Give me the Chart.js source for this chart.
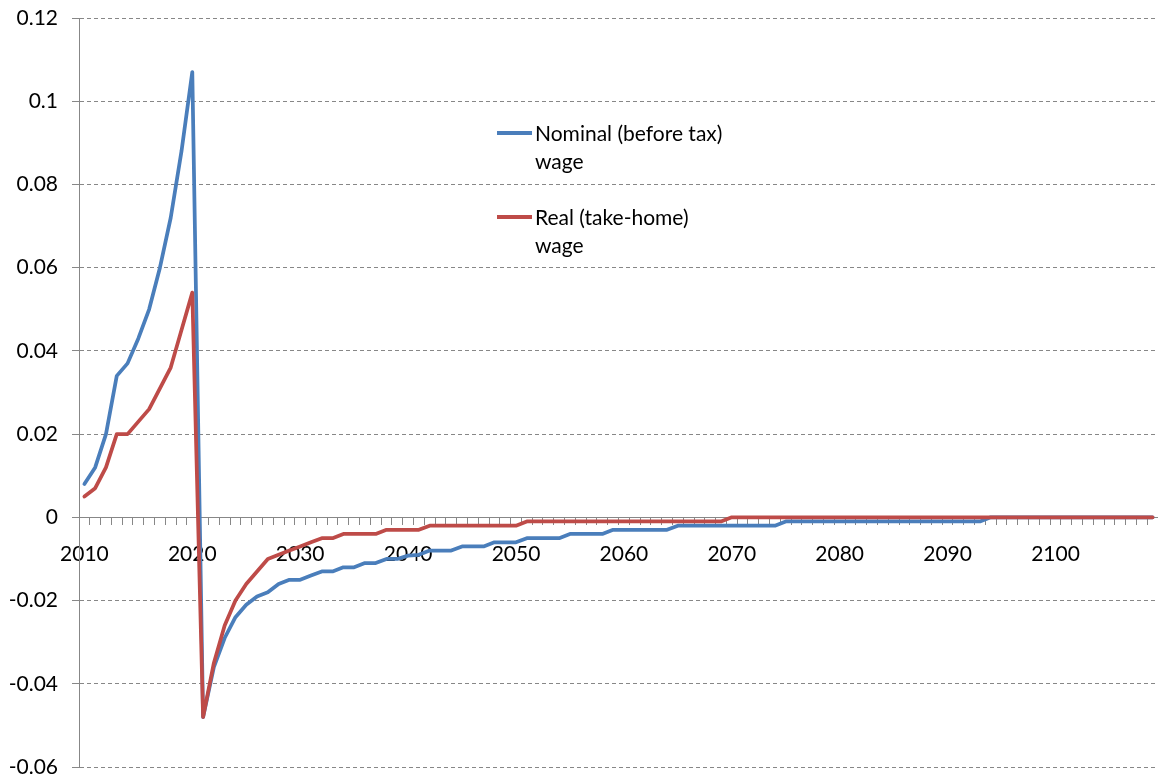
<!DOCTYPE html>
<html>
<head>
<meta charset="utf-8">
<title>Nominal and real wage</title>
<script src="https://cdn.jsdelivr.net/npm/chart.js@4.4.1/dist/chart.umd.min.js"></script>
<style>
    html, body { margin: 0; padding: 0; background: #ffffff; }
    #wrap { position: relative; width: 1158px; height: 781px; }
    #legend {
        position: absolute;
        left: 497px;
        top: 119px;
        font-family: Lato, 'Open Sans', sans-serif;
        font-size: 21px;
        line-height: 28px;
        color: #000000;
    }
    .item { display: flex; align-items: flex-start; margin-bottom: 28px; }
    .swatch { width: 35px; height: 3.5px; margin-top: 12px; margin-right: 3px; flex: none; }
</style>
</head>
<body>
<div id="wrap">
    <canvas id="wageChart" width="1158" height="781"></canvas>
    <div id="legend"></div>
</div>
<script>
// Years on the x axis
const years = Array.from({ length: 100 }, (_, i) => String(2010 + i));
const xTickLabels = ['2010', '2020', '2030', '2040', '2050', '2060', '2070', '2080', '2090', '2100'];
const yTicks = [0.12, 0.1, 0.08, 0.06, 0.04, 0.02, 0, -0.02, -0.04, -0.06];

const seriesLabels = ['Nominal (before tax)\nwage', 'Real (take-home)\nwage'];
const seriesColors = ['#4A7EBB', '#BE4B48'];

// 2010 - 2109
const nominalWage = [
    0.008, 0.012, 0.020, 0.034, 0.037, 0.043, 0.050, 0.060, 0.072, 0.088,
    0.107, -0.048, -0.036, -0.029, -0.024, -0.021, -0.019, -0.018, -0.016, -0.015,
    -0.015, -0.014, -0.013, -0.013, -0.012, -0.012, -0.011, -0.011, -0.010, -0.010,
    -0.0092, -0.009, -0.008, -0.008, -0.008, -0.007, -0.007, -0.007, -0.006, -0.006,
    -0.006, -0.005, -0.005, -0.005, -0.005, -0.004, -0.004, -0.004, -0.004, -0.003,
    -0.003, -0.003, -0.003, -0.003, -0.003, -0.002, -0.002, -0.002, -0.002, -0.002,
    -0.002, -0.002, -0.002, -0.002, -0.002, -0.001, -0.001, -0.001, -0.001, -0.001,
    -0.001, -0.001, -0.001, -0.001, -0.001, -0.001, -0.001, -0.001, -0.001, -0.001,
    -0.001, -0.001, -0.001, -0.001, 0, 0, 0, 0, 0, 0,
    0, 0, 0, 0, 0, 0, 0, 0, 0, 0
];

const realWage = [
    0.005, 0.007, 0.012, 0.020, 0.020, 0.023, 0.026, 0.031, 0.036, 0.045,
    0.054, -0.048, -0.035, -0.026, -0.020, -0.016, -0.013, -0.010, -0.009, -0.008,
    -0.007, -0.006, -0.005, -0.005, -0.004, -0.004, -0.004, -0.004, -0.003, -0.003,
    -0.003, -0.003, -0.002, -0.002, -0.002, -0.002, -0.002, -0.002, -0.002, -0.002,
    -0.002, -0.001, -0.001, -0.001, -0.001, -0.001, -0.001, -0.001, -0.001, -0.001,
    -0.001, -0.001, -0.001, -0.001, -0.001, -0.001, -0.001, -0.001, -0.001, -0.001,
    0, 0, 0, 0, 0, 0, 0, 0, 0, 0,
    0, 0, 0, 0, 0, 0, 0, 0, 0, 0,
    0, 0, 0, 0, 0, 0, 0, 0, 0, 0,
    0, 0, 0, 0, 0, 0, 0, 0, 0, 0
];

const axisGrey = '#878787';
const tickFont = { family: "Lato, 'Open Sans', sans-serif", size: 21 };

// legend in html, so the labels can wrap onto two lines like the original
const htmlLegend = {
    id: 'htmlLegend',
    afterUpdate(chart) {
        const box = document.getElementById('legend');
        box.innerHTML = '';
        chart.data.datasets.forEach(ds => {
            const item = document.createElement('div');
            item.className = 'item';
            const swatch = document.createElement('div');
            swatch.className = 'swatch';
            swatch.style.background = ds.borderColor;
            const text = document.createElement('div');
            text.innerHTML = ds.label.split('\n').join('<br>');
            item.appendChild(swatch);
            item.appendChild(text);
            box.appendChild(item);
        });
    }
};

new Chart(document.getElementById('wageChart'), {
    type: 'line',
    data: {
        labels: years,
        datasets: [
            {
                label: seriesLabels[0],
                data: nominalWage,
                borderColor: seriesColors[0],
                backgroundColor: seriesColors[0],
                borderWidth: 3.75,
                pointRadius: 0,
                tension: 0,
                borderJoinStyle: 'round',
                borderCapStyle: 'round',
                order: 1
            },
            {
                label: seriesLabels[1],
                data: realWage,
                borderColor: seriesColors[1],
                backgroundColor: seriesColors[1],
                borderWidth: 3.75,
                pointRadius: 0,
                tension: 0,
                borderJoinStyle: 'round',
                borderCapStyle: 'round',
                order: 0
            }
        ]
    },
    options: {
        responsive: false,
        devicePixelRatio: 1,
        animation: false,
        layout: { padding: { top: 18, right: 0, bottom: 14, left: 0 } },
        plugins: {
            legend: { display: false },
            tooltip: { enabled: false }
        },
        scales: {
            x: {
                type: 'category',
                offset: true,
                position: { y: 0 },
                afterFit(scale) {
                    // plot runs right up to the canvas edge
                    scale.paddingLeft = 0;
                    scale.paddingRight = 0;
                },
                grid: {
                    display: true,
                    drawOnChartArea: false,
                    drawTicks: true,
                    tickLength: 7,
                    offset: true,
                    color: axisGrey
                },
                border: { display: true, color: axisGrey, width: 1 },
                ticks: {
                    autoSkip: false,
                    maxRotation: 0,
                    padding: 17,
                    color: '#000000',
                    font: tickFont,
                    callback: function(value, index) {
                        const label = this.getLabelForValue(value);
                        return xTickLabels.includes(label) ? label : '';
                    }
                }
            },
            y: {
                min: yTicks[yTicks.length - 1],
                max: yTicks[0],
                afterFit(scale) {
                    scale.width = 79;
                    // the label overhang should not push the plot area in
                    scale.paddingTop = 0;
                    scale.paddingBottom = 0;
                },
                afterBuildTicks(scale) {
                    scale.ticks = yTicks.map(v => ({ value: v }));
                },
                grid: {
                    color: axisGrey,
                    lineWidth: 1,
                    drawTicks: true,
                    tickLength: 7,
                    tickColor: axisGrey
                },
                border: { display: true, color: axisGrey, width: 1, dash: [4, 3] },
                ticks: {
                    padding: 14,
                    color: '#000000',
                    font: tickFont,
                    callback: function(value) {
                        return String(Number(value.toFixed(2)));
                    }
                }
            }
        }
    },
    plugins: [htmlLegend]
});
</script>
</body>
</html>
